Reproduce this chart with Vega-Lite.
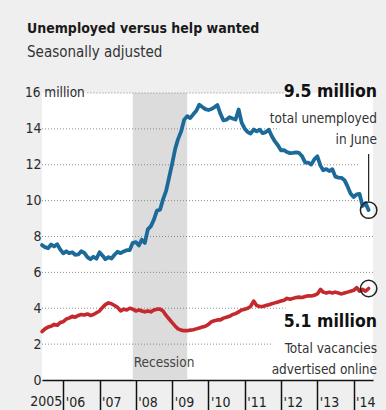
{
  "$schema": "https://vega.github.io/schema/vega-lite/v6.json",
  "width": 331,
  "height": 287,
  "autosize": "none",
  "padding": {"left": 42, "top": 93, "right": 13, "bottom": 30},
  "background": "#efefef",
  "view": {"fill": "white", "stroke": null},
  "config": {"font": "DejaVu Sans Condensed, Roboto, sans-serif"},
  "title": {
    "text": "Unemployed versus help wanted",
    "subtitle": "Seasonally adjusted",
    "anchor": "start",
    "frame": "group",
    "dx": -15,
    "offset": 23,
    "fontSize": 14,
    "fontWeight": "bold",
    "color": "#1a1a1a",
    "subtitleFontSize": 15,
    "subtitleColor": "#333333",
    "subtitlePadding": 9,
    "font": "DejaVu Sans Condensed, Roboto, sans-serif",
    "subtitleFont": "DejaVu Sans Condensed, Roboto, sans-serif"
  },
  "datasets": {
    "series": [
      {"date": "2005-06-01", "unemployed": 7.52, "vacancies": 2.70},
      {"date": "2005-07-01", "unemployed": 7.41, "vacancies": 2.85},
      {"date": "2005-08-01", "unemployed": 7.35, "vacancies": 2.95},
      {"date": "2005-09-01", "unemployed": 7.55, "vacancies": 3.00},
      {"date": "2005-10-01", "unemployed": 7.45, "vacancies": 3.10},
      {"date": "2005-11-01", "unemployed": 7.57, "vacancies": 3.05},
      {"date": "2005-12-01", "unemployed": 7.28, "vacancies": 3.20},
      {"date": "2006-01-01", "unemployed": 7.06, "vacancies": 3.25},
      {"date": "2006-02-01", "unemployed": 7.18, "vacancies": 3.40},
      {"date": "2006-03-01", "unemployed": 7.07, "vacancies": 3.45},
      {"date": "2006-04-01", "unemployed": 7.12, "vacancies": 3.55},
      {"date": "2006-05-01", "unemployed": 6.98, "vacancies": 3.50},
      {"date": "2006-06-01", "unemployed": 7.00, "vacancies": 3.60},
      {"date": "2006-07-01", "unemployed": 7.18, "vacancies": 3.65},
      {"date": "2006-08-01", "unemployed": 7.09, "vacancies": 3.62},
      {"date": "2006-09-01", "unemployed": 6.85, "vacancies": 3.68},
      {"date": "2006-10-01", "unemployed": 6.73, "vacancies": 3.60},
      {"date": "2006-11-01", "unemployed": 6.87, "vacancies": 3.65},
      {"date": "2006-12-01", "unemployed": 6.76, "vacancies": 3.75},
      {"date": "2007-01-01", "unemployed": 7.12, "vacancies": 3.85},
      {"date": "2007-02-01", "unemployed": 6.93, "vacancies": 4.05},
      {"date": "2007-03-01", "unemployed": 6.73, "vacancies": 4.20},
      {"date": "2007-04-01", "unemployed": 6.85, "vacancies": 4.30},
      {"date": "2007-05-01", "unemployed": 6.77, "vacancies": 4.25},
      {"date": "2007-06-01", "unemployed": 6.98, "vacancies": 4.15},
      {"date": "2007-07-01", "unemployed": 7.15, "vacancies": 4.05},
      {"date": "2007-08-01", "unemployed": 7.07, "vacancies": 3.85},
      {"date": "2007-09-01", "unemployed": 7.17, "vacancies": 3.95},
      {"date": "2007-10-01", "unemployed": 7.24, "vacancies": 3.90},
      {"date": "2007-11-01", "unemployed": 7.24, "vacancies": 4.00},
      {"date": "2007-12-01", "unemployed": 7.65, "vacancies": 3.95},
      {"date": "2008-01-01", "unemployed": 7.69, "vacancies": 3.85},
      {"date": "2008-02-01", "unemployed": 7.50, "vacancies": 3.90},
      {"date": "2008-03-01", "unemployed": 7.82, "vacancies": 3.85},
      {"date": "2008-04-01", "unemployed": 7.64, "vacancies": 3.80},
      {"date": "2008-05-01", "unemployed": 8.40, "vacancies": 3.85},
      {"date": "2008-06-01", "unemployed": 8.58, "vacancies": 3.80},
      {"date": "2008-07-01", "unemployed": 8.94, "vacancies": 3.90},
      {"date": "2008-08-01", "unemployed": 9.44, "vacancies": 3.95},
      {"date": "2008-09-01", "unemployed": 9.49, "vacancies": 3.95},
      {"date": "2008-10-01", "unemployed": 10.07, "vacancies": 3.85},
      {"date": "2008-11-01", "unemployed": 10.54, "vacancies": 3.60},
      {"date": "2008-12-01", "unemployed": 11.29, "vacancies": 3.40},
      {"date": "2009-01-01", "unemployed": 12.06, "vacancies": 3.20},
      {"date": "2009-02-01", "unemployed": 12.90, "vacancies": 3.00},
      {"date": "2009-03-01", "unemployed": 13.43, "vacancies": 2.85},
      {"date": "2009-04-01", "unemployed": 13.85, "vacancies": 2.78},
      {"date": "2009-05-01", "unemployed": 14.50, "vacancies": 2.75},
      {"date": "2009-06-01", "unemployed": 14.71, "vacancies": 2.75},
      {"date": "2009-07-01", "unemployed": 14.60, "vacancies": 2.78},
      {"date": "2009-08-01", "unemployed": 14.81, "vacancies": 2.80},
      {"date": "2009-09-01", "unemployed": 15.01, "vacancies": 2.85},
      {"date": "2009-10-01", "unemployed": 15.35, "vacancies": 2.90},
      {"date": "2009-11-01", "unemployed": 15.22, "vacancies": 2.95},
      {"date": "2009-12-01", "unemployed": 15.10, "vacancies": 3.00},
      {"date": "2010-01-01", "unemployed": 15.05, "vacancies": 3.10},
      {"date": "2010-02-01", "unemployed": 15.11, "vacancies": 3.25},
      {"date": "2010-03-01", "unemployed": 15.20, "vacancies": 3.30},
      {"date": "2010-04-01", "unemployed": 15.33, "vacancies": 3.35},
      {"date": "2010-05-01", "unemployed": 14.85, "vacancies": 3.35},
      {"date": "2010-06-01", "unemployed": 14.47, "vacancies": 3.45},
      {"date": "2010-07-01", "unemployed": 14.51, "vacancies": 3.50},
      {"date": "2010-08-01", "unemployed": 14.65, "vacancies": 3.55},
      {"date": "2010-09-01", "unemployed": 14.58, "vacancies": 3.65},
      {"date": "2010-10-01", "unemployed": 14.52, "vacancies": 3.70},
      {"date": "2010-11-01", "unemployed": 15.08, "vacancies": 3.80},
      {"date": "2010-12-01", "unemployed": 14.35, "vacancies": 3.90},
      {"date": "2011-01-01", "unemployed": 14.01, "vacancies": 3.95},
      {"date": "2011-02-01", "unemployed": 13.82, "vacancies": 4.00},
      {"date": "2011-03-01", "unemployed": 13.74, "vacancies": 4.10},
      {"date": "2011-04-01", "unemployed": 13.96, "vacancies": 4.40},
      {"date": "2011-05-01", "unemployed": 13.86, "vacancies": 4.15},
      {"date": "2011-06-01", "unemployed": 13.96, "vacancies": 4.10},
      {"date": "2011-07-01", "unemployed": 13.76, "vacancies": 4.10},
      {"date": "2011-08-01", "unemployed": 13.82, "vacancies": 4.15},
      {"date": "2011-09-01", "unemployed": 13.95, "vacancies": 4.20},
      {"date": "2011-10-01", "unemployed": 13.59, "vacancies": 4.25},
      {"date": "2011-11-01", "unemployed": 13.30, "vacancies": 4.30},
      {"date": "2011-12-01", "unemployed": 13.09, "vacancies": 4.35},
      {"date": "2012-01-01", "unemployed": 12.80, "vacancies": 4.40},
      {"date": "2012-02-01", "unemployed": 12.81, "vacancies": 4.45},
      {"date": "2012-03-01", "unemployed": 12.71, "vacancies": 4.55},
      {"date": "2012-04-01", "unemployed": 12.65, "vacancies": 4.50},
      {"date": "2012-05-01", "unemployed": 12.66, "vacancies": 4.55},
      {"date": "2012-06-01", "unemployed": 12.69, "vacancies": 4.60},
      {"date": "2012-07-01", "unemployed": 12.66, "vacancies": 4.62},
      {"date": "2012-08-01", "unemployed": 12.47, "vacancies": 4.60},
      {"date": "2012-09-01", "unemployed": 12.12, "vacancies": 4.65},
      {"date": "2012-10-01", "unemployed": 12.12, "vacancies": 4.70},
      {"date": "2012-11-01", "unemployed": 12.01, "vacancies": 4.68},
      {"date": "2012-12-01", "unemployed": 12.30, "vacancies": 4.72},
      {"date": "2013-01-01", "unemployed": 12.47, "vacancies": 4.80},
      {"date": "2013-02-01", "unemployed": 11.95, "vacancies": 5.05},
      {"date": "2013-03-01", "unemployed": 11.69, "vacancies": 4.90},
      {"date": "2013-04-01", "unemployed": 11.76, "vacancies": 4.85},
      {"date": "2013-05-01", "unemployed": 11.65, "vacancies": 4.90},
      {"date": "2013-06-01", "unemployed": 11.75, "vacancies": 4.85},
      {"date": "2013-07-01", "unemployed": 11.34, "vacancies": 4.90},
      {"date": "2013-08-01", "unemployed": 11.28, "vacancies": 4.85},
      {"date": "2013-09-01", "unemployed": 11.27, "vacancies": 4.80},
      {"date": "2013-10-01", "unemployed": 11.14, "vacancies": 4.85},
      {"date": "2013-11-01", "unemployed": 10.79, "vacancies": 4.90},
      {"date": "2013-12-01", "unemployed": 10.40, "vacancies": 4.95},
      {"date": "2014-01-01", "unemployed": 10.20, "vacancies": 5.00},
      {"date": "2014-02-01", "unemployed": 10.35, "vacancies": 5.15},
      {"date": "2014-03-01", "unemployed": 10.38, "vacancies": 4.95},
      {"date": "2014-04-01", "unemployed": 9.70, "vacancies": 5.05},
      {"date": "2014-05-01", "unemployed": 9.86, "vacancies": 4.95},
      {"date": "2014-06-01", "unemployed": 9.47, "vacancies": 5.10}
    ],
    "grid": [
      {"level": 16, "from": "2006-09-01", "to": "2012-02-15"},
      {"level": 14, "from": "2005-06-01", "to": "2011-12-15"},
      {"level": 12, "from": "2005-06-01", "to": "2014-02-15"},
      {"level": 10, "from": "2005-06-01", "to": "2014-02-15"},
      {"level": 8, "from": "2005-06-01", "to": "2014-07-15"},
      {"level": 6, "from": "2005-06-01", "to": "2014-07-15"},
      {"level": 4, "from": "2005-06-01", "to": "2012-02-15"},
      {"level": 2, "from": "2005-06-01", "to": "2011-10-15"}
    ],
    "bigLabels": [
      {"date": "2014-07-15", "value": 15.77, "label": "9.5 million"},
      {"date": "2014-07-15", "value": 2.95, "label": "5.1 million"}
    ],
    "smallLabels": [
      {"date": "2014-07-15", "value": 14.34, "label": "total unemployed"},
      {"date": "2014-07-15", "value": 13.13, "label": "in June"},
      {"date": "2014-07-15", "value": 1.5, "label": "Total vacancies"},
      {"date": "2014-07-15", "value": 0.31, "label": "advertised online"}
    ]
  },
  "encoding": {
    "x": {
      "field": "date",
      "type": "temporal",
      "scale": {"domain": [{"year": 2005, "month": 6, "date": 1}, {"year": 2014, "month": 7, "date": 15}], "nice": false},
      "axis": {
        "title": null,
        "tickCount": {"interval": "year", "step": 1},
        "labelExpr": "\"'\" + timeFormat(datum.value, '%y')",
        "labelAlign": "left",
        "labelBaseline": "alphabetic",
        "labelOffset": 2,
        "labelPadding": -4,
        "labelFontSize": 14,
        "labelColor": "#222222",
        "labelFont": "DejaVu Sans Condensed, Roboto, sans-serif",
        "domainColor": "#111111",
        "domainWidth": 1.5,
        "tickColor": "#111111",
        "tickWidth": 1.5,
        "tickSize": 30,
        "grid": false,
        "labelFlush": false,
        "labelOverlap": false
      }
    }
  },
  "layer": [
    {
      "data": {"values": [{"start": "2007-12-01", "end": "2009-06-01"}]},
      "mark": {"type": "rect", "color": "#dcdcdc"},
      "encoding": {
        "x": {"field": "start", "type": "temporal"},
        "x2": {"field": "end"}
      }
    },
    {
      "data": {"name": "grid"},
      "mark": {"type": "rule", "color": "#8a8a8a", "strokeDash": [1, 2], "strokeWidth": 1},
      "encoding": {
        "x": {"field": "from", "type": "temporal"},
        "x2": {"field": "to"},
        "y": {
          "field": "level",
          "type": "quantitative",
          "scale": {"domain": [0, 16], "nice": false},
          "axis": {
            "title": null,
            "values": [0, 2, 4, 6, 8, 10, 12, 14],
            "grid": false,
            "domain": false,
            "ticks": false,
            "labelOverlap": false,
            "labelAlign": "right",
            "labelPadding": 1,
            "labelFontSize": 14,
            "labelColor": "#2a2a2a",
            "labelFont": "DejaVu Sans Condensed, Roboto, sans-serif",
            "labelBaseline": "middle"
          }
        }
      }
    },
    {
      "data": {"name": "series"},
      "mark": {"type": "line", "color": "#1c6a99", "strokeWidth": 3.8, "strokeJoin": "round", "strokeCap": "round"},
      "encoding": {
        "x": {"field": "date", "type": "temporal"},
        "y": {"field": "unemployed", "type": "quantitative"}
      }
    },
    {
      "data": {"name": "series"},
      "mark": {"type": "line", "color": "#c4292e", "strokeWidth": 3.6, "strokeJoin": "round", "strokeCap": "round"},
      "encoding": {
        "x": {"field": "date", "type": "temporal"},
        "y": {"field": "vacancies", "type": "quantitative"}
      }
    },
    {
      "data": {"name": "series"},
      "transform": [{"filter": "year(datum.date) == 2014 && month(datum.date) == 5"}],
      "mark": {"type": "point", "filled": false, "color": "#222222", "size": 270, "strokeWidth": 1.5, "opacity": 1},
      "encoding": {
        "x": {"field": "date", "type": "temporal"},
        "y": {"field": "unemployed", "type": "quantitative"}
      }
    },
    {
      "data": {"name": "series"},
      "transform": [{"filter": "year(datum.date) == 2014 && month(datum.date) == 5"}],
      "mark": {"type": "point", "filled": false, "color": "#222222", "size": 270, "strokeWidth": 1.5, "opacity": 1},
      "encoding": {
        "x": {"field": "date", "type": "temporal"},
        "y": {"field": "vacancies", "type": "quantitative"}
      }
    },
    {
      "data": {"values": [{"date": "2014-06-01", "from": 12.6, "to": 9.98}]},
      "mark": {"type": "rule", "color": "#222222", "strokeWidth": 1.2},
      "encoding": {
        "x": {"field": "date", "type": "temporal"},
        "y": {"field": "from", "type": "quantitative"},
        "y2": {"field": "to"}
      }
    },
    {
      "data": {"name": "bigLabels"},
      "mark": {"type": "text", "align": "right", "baseline": "alphabetic", "dx": 4, "fontSize": 17.5, "fontWeight": "bold", "color": "#111111", "font": "DejaVu Sans Condensed, Roboto, sans-serif"},
      "encoding": {
        "x": {"field": "date", "type": "temporal"},
        "y": {"field": "value", "type": "quantitative"},
        "text": {"field": "label"}
      }
    },
    {
      "data": {"name": "smallLabels"},
      "mark": {"type": "text", "align": "right", "baseline": "alphabetic", "dx": 4, "fontSize": 13.5, "color": "#333333", "font": "DejaVu Sans Condensed, Roboto, sans-serif"},
      "encoding": {
        "x": {"field": "date", "type": "temporal"},
        "y": {"field": "value", "type": "quantitative"},
        "text": {"field": "label"}
      }
    },
    {
      "data": {"values": [{"date": "2005-06-01", "value": 16, "label": "16 million"}]},
      "mark": {"type": "text", "align": "left", "baseline": "middle", "dx": -17, "fontSize": 13.5, "color": "#2a2a2a", "font": "DejaVu Sans Condensed, Roboto, sans-serif"},
      "encoding": {
        "x": {"field": "date", "type": "temporal"},
        "y": {"field": "value", "type": "quantitative"},
        "text": {"field": "label"}
      }
    },
    {
      "data": {"values": [{"date": "2007-12-01", "value": 0.75, "label": "Recession"}]},
      "mark": {"type": "text", "align": "left", "baseline": "alphabetic", "dx": 1, "fontSize": 13.5, "color": "#444444", "font": "DejaVu Sans Condensed, Roboto, sans-serif"},
      "encoding": {
        "x": {"field": "date", "type": "temporal"},
        "y": {"field": "value", "type": "quantitative"},
        "text": {"field": "label"}
      }
    },
    {
      "data": {"values": [{"date": "2006-01-01", "value": -1.45, "label": "2005"}]},
      "mark": {"type": "text", "align": "right", "baseline": "alphabetic", "dx": -1, "fontSize": 14, "color": "#222222", "font": "DejaVu Sans Condensed, Roboto, sans-serif"},
      "encoding": {
        "x": {"field": "date", "type": "temporal"},
        "y": {"field": "value", "type": "quantitative"},
        "text": {"field": "label"}
      }
    }
  ]
}
